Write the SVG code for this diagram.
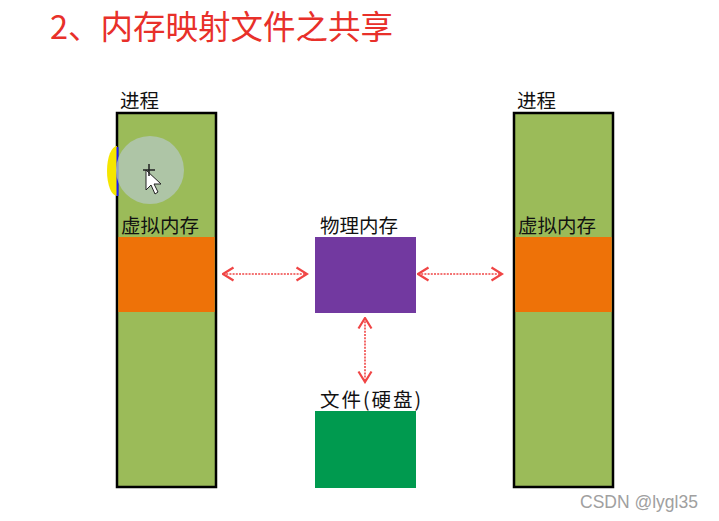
<svg xmlns="http://www.w3.org/2000/svg" width="719" height="521" viewBox="0 0 719 521">
<defs>
<style>
.t{font-family:"Noto Sans CJK SC","Liberation Sans",sans-serif;font-size:19.5px;fill:#111}
.title{font-family:"Noto Sans CJK SC","Liberation Sans",sans-serif;font-size:32.5px;fill:#e8302a}
.proc{fill:#9bbb59;stroke:#000;stroke-width:2.5}
.vm{fill:#ee7208}
.conn{stroke:#f04545;stroke-width:1.6;stroke-dasharray:2 1.2;fill:none}
.wm{font-family:"Liberation Sans",sans-serif;font-size:17.5px;fill:#a0a0a0}
</style>
<marker id="ah" viewBox="0 0 14 16" refX="12.5" refY="8" markerWidth="14" markerHeight="16" markerUnits="userSpaceOnUse" orient="auto-start-reverse">
<path d="M2,1.5 L12.5,8 L2,14.5" fill="none" stroke="#f04545" stroke-width="2.2"/>
</marker>
</defs>
<rect width="719" height="521" fill="#fff"/>
<text class="title" x="50" y="39">2、内存映射文件之共享</text>

<g id="process-left">
<rect class="proc" x="117" y="113" width="99" height="374"/>
<rect class="vm" x="118.3" y="237" width="96.4" height="75"/>
<text class="t" x="120" y="108">进程</text>
<text class="t" x="121" y="233">虚拟内存</text>
</g>

<g id="cursor-overlay">
<path d="M117,146 A10,25 0 0,0 117,196 Z" fill="#f5e600"/>
<line x1="117.5" y1="147" x2="117.5" y2="196" stroke="#1a1aff" stroke-width="2"/>
<circle cx="150" cy="170" r="34" fill="#b4c8c0" opacity="0.75"/>
<path d="M146,170 L146,190 L151,185 L155,194 L158,192 L154,184 L161,184 Z" fill="#fff" stroke="#222" stroke-width="1"/>
<path d="M143,170 h12 M149,164 v12" stroke="#222" stroke-width="1.5"/>
</g>

<g id="process-right">
<rect class="proc" x="514" y="113" width="99" height="374"/>
<rect class="vm" x="515.3" y="237" width="96.4" height="75"/>
<text class="t" x="517" y="108">进程</text>
<text class="t" x="518" y="233">虚拟内存</text>
</g>

<g id="physical-memory">
<rect x="315" y="237" width="101" height="76" fill="#7239a0"/>
<text class="t" x="320" y="233">物理内存</text>
</g>

<g id="file-disk">
<rect x="315" y="411" width="101" height="77" fill="#009a4f"/>
<text class="t" x="320" y="407" textLength="101" lengthAdjust="spacing">文件(硬盘)</text>
</g>

<g id="connectors">
<line class="conn" x1="223" y1="274" x2="307" y2="274" marker-start="url(#ah)" marker-end="url(#ah)"/>
<line class="conn" x1="418" y1="274" x2="502" y2="274" marker-start="url(#ah)" marker-end="url(#ah)"/>
<line class="conn" x1="365" y1="318" x2="365" y2="382" marker-start="url(#ah)" marker-end="url(#ah)"/>
</g>

<text class="wm" x="580" y="508">CSDN @lygl35</text>
</svg>
